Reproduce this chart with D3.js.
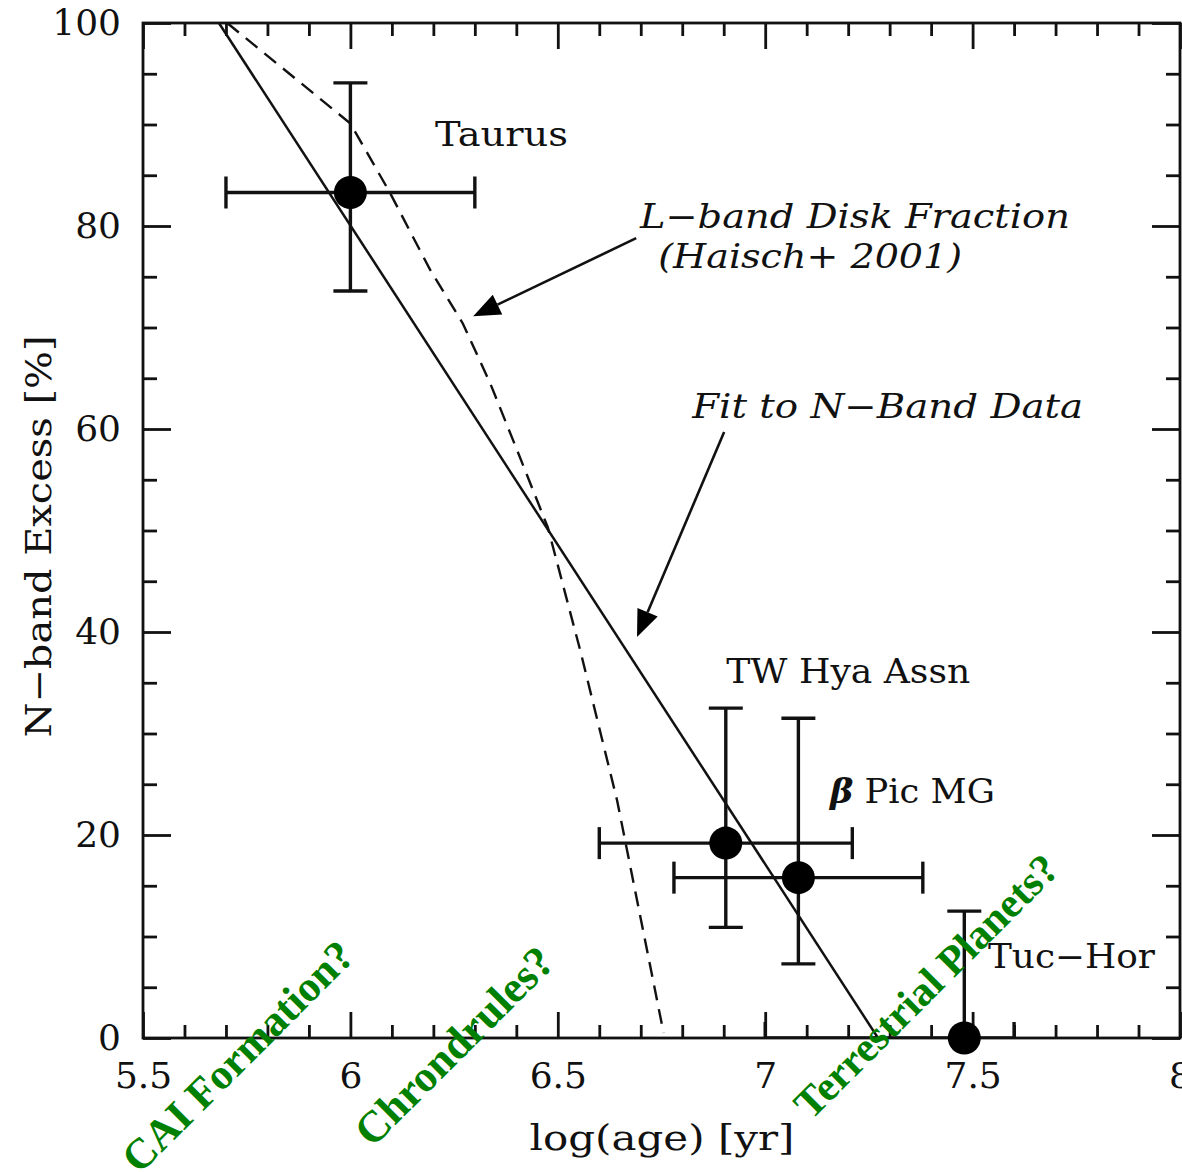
<!DOCTYPE html>
<html><head><meta charset="utf-8">
<script src="https://cdn.jsdelivr.net/npm/d3@7"></script>
<style>body{margin:0;background:#fff;} svg{display:block}</style>
</head><body><svg id="c" width="1182" height="1172"></svg>
<script>
// ---- data ----
const xMajorTicks = [5.5, 6, 6.5, 7, 7.5, 8];
const xTickLabels = ["5.5", "6", "6.5", "7", "7.5", "8"];
const yMajorTicks = [0, 20, 40, 60, 80, 100];
const yTickLabels = ["0", "20", "40", "60", "80", "100"];

const clusterNames = ["Taurus", "TW Hya Assn", "β Pic MG", "Tuc−Hor"];
const logAge   = [6.00, 6.905, 7.08, 7.48];
const excess   = [83.3, 19.2, 15.8, 0];
const ageLo    = [5.70, 6.60, 6.78, 7.00];
const ageHi    = [6.30, 7.21, 7.38, 7.60];
const excessLo = [73.6, 10.9, 7.3, -12.5];
const excessHi = [94.1, 32.5, 31.5, 12.5];

// fit to N-band data (solid)
const fitAge    = [5.683, 7.272];
const fitExcess = [100, 0];
// L-band disk fraction, Haisch+ 2001 (dashed)
const lbandAge    = [5.703, 6.00, 6.095, 6.192, 6.271, 6.337, 6.402, 6.476, 6.554, 6.643, 6.755];
const lbandExcess = [100, 90.1, 83.3, 75.7, 70.4, 64.5, 57.9, 50.3, 38.2, 23.4, 0.5];

// ---- layout ----
const svg = d3.select("#c");
const x = d3.scaleLinear().domain([5.5, 8]).range([143, 1180]);
const y = d3.scaleLinear().domain([0, 100]).range([1038, 23]);
const FONT = "'DejaVu Serif', serif";

const xMinor = d3.range(55, 81).map(v => v / 10).filter(v => !xMajorTicks.some(m => Math.abs(m - v) < 1e-6));
const yMinor = d3.range(0, 101, 5).filter(v => v % 20 !== 0);

svg.append("defs").append("clipPath").attr("id", "plotclip")
  .append("rect").attr("x", x(5.5)).attr("y", y(100)).attr("width", x(8) - x(5.5)).attr("height", y(0) - y(100));

function styleAxis(g) {
  g.select(".domain").remove();
  g.selectAll(".tick line").attr("stroke", "#111").attr("stroke-width", 2.8);
  g.selectAll(".tick text").attr("font-family", FONT).attr("font-size", 36).attr("fill", "#111");
}
// bottom
svg.append("g").attr("transform", `translate(0,${y(0)})`)
  .call(d3.axisBottom(x).tickValues(xMinor).tickSize(-13).tickFormat("")).call(styleAxis);
svg.append("g").attr("transform", `translate(0,${y(0)})`)
  .call(d3.axisBottom(x).tickValues(xMajorTicks).tickSize(-26).tickPadding(24)
    .tickFormat((d, i) => xTickLabels[i])).call(styleAxis);
// top
svg.append("g").attr("transform", `translate(0,${y(100)})`)
  .call(d3.axisTop(x).tickValues(xMinor).tickSize(-13).tickFormat("")).call(styleAxis);
svg.append("g").attr("transform", `translate(0,${y(100)})`)
  .call(d3.axisTop(x).tickValues(xMajorTicks).tickSize(-26).tickFormat("")).call(styleAxis);
// left
svg.append("g").attr("transform", `translate(${x(5.5)},0)`)
  .call(d3.axisLeft(y).tickValues(yMinor).tickSize(-14).tickFormat("")).call(styleAxis);
svg.append("g").attr("transform", `translate(${x(5.5)},0)`)
  .call(d3.axisLeft(y).tickValues(yMajorTicks).tickSize(-28).tickPadding(22)
    .tickFormat((d, i) => yTickLabels[i])).call(styleAxis);
// right
svg.append("g").attr("transform", `translate(${x(8)},0)`)
  .call(d3.axisRight(y).tickValues(yMinor).tickSize(-14).tickFormat("")).call(styleAxis);
svg.append("g").attr("transform", `translate(${x(8)},0)`)
  .call(d3.axisRight(y).tickValues(yMajorTicks).tickSize(-28).tickFormat("")).call(styleAxis);

// frame
svg.append("rect").attr("x", x(5.5)).attr("y", y(100))
  .attr("width", x(8) - x(5.5)).attr("height", y(0) - y(100))
  .attr("fill", "none").attr("stroke", "#111").attr("stroke-width", 2.8);

// lines
const line = d3.line().x(d => x(d[0])).y(d => y(d[1]));
svg.append("path").datum(fitAge.map((a, i) => [a, fitExcess[i]]))
  .attr("d", line).attr("fill", "none").attr("stroke", "#111").attr("stroke-width", 2.5);
svg.append("path").datum(lbandAge.map((a, i) => [a, lbandExcess[i]]))
  .attr("d", line).attr("fill", "none").attr("stroke", "#111").attr("stroke-width", 2.4)
  .attr("stroke-dasharray", "15,9");

// error bars
const eb = svg.append("g").attr("clip-path", "url(#plotclip)")
  .attr("stroke", "#111").attr("stroke-width", 3.4).attr("fill", "none");
const CAP = 16;
clusterNames.forEach((n, i) => {
  const cx = x(logAge[i]), cy = y(excess[i]);
  eb.append("line").attr("x1", x(ageLo[i])).attr("x2", x(ageHi[i])).attr("y1", cy).attr("y2", cy);
  eb.append("line").attr("x1", x(ageLo[i])).attr("x2", x(ageLo[i])).attr("y1", cy - CAP).attr("y2", cy + CAP);
  eb.append("line").attr("x1", x(ageHi[i])).attr("x2", x(ageHi[i])).attr("y1", cy - CAP).attr("y2", cy + CAP);
  eb.append("line").attr("x1", cx).attr("x2", cx).attr("y1", y(excessLo[i])).attr("y2", y(excessHi[i]));
  eb.append("line").attr("x1", cx - CAP - 1).attr("x2", cx + CAP + 1).attr("y1", y(excessLo[i])).attr("y2", y(excessLo[i]));
  eb.append("line").attr("x1", cx - CAP - 1).attr("x2", cx + CAP + 1).attr("y1", y(excessHi[i])).attr("y2", y(excessHi[i]));
});
svg.append("g").selectAll("circle").data(clusterNames).join("circle")
  .attr("cx", (d, i) => x(logAge[i])).attr("cy", (d, i) => y(excess[i]))
  .attr("r", 16.5).attr("fill", "#000");

// arrows (data coords)
const arrows = [
  { from: [6.689, 78.8], to: [6.296, 71.1] },
  { from: [6.901, 59.7], to: [6.691, 39.5] }
];
arrows.forEach(a => {
  const x0 = x(a.from[0]), y0 = y(a.from[1]), x1 = x(a.to[0]), y1 = y(a.to[1]);
  const ang = Math.atan2(y1 - y0, x1 - x0);
  const L = 27, W = 11;
  const bx = x1 - L * Math.cos(ang), by = y1 - L * Math.sin(ang);
  svg.append("line").attr("x1", x0).attr("y1", y0).attr("x2", bx).attr("y2", by)
    .attr("stroke", "#111").attr("stroke-width", 2.6);
  const px = -Math.sin(ang), py = Math.cos(ang);
  svg.append("path").attr("d", `M${x1},${y1}L${bx + W * px},${by + W * py}L${bx - W * px},${by - W * py}Z`)
    .attr("fill", "#000");
});

// annotations
function txt(content, xv, yv, width, opts = {}) {
  const t = svg.append("text").attr("x", x(xv)).attr("y", y(yv))
    .attr("font-family", FONT).attr("font-size", opts.size || 33).attr("fill", "#111")
    .attr("font-style", opts.italic ? "italic" : "normal")
    .attr("textLength", width).attr("lengthAdjust", "spacingAndGlyphs");
  if (opts.beta) {
    t.append("tspan").attr("font-style", "italic").attr("font-weight", "bold").text("β");
    t.append("tspan").text(content);
  } else t.text(content);
  return t;
}
txt("Taurus", 6.204, 87.9, 133);
txt("L−band Disk Fraction", 6.698, 79.8, 430, { italic: true });
txt("(Haisch+ 2001)", 6.742, 75.9, 304, { italic: true });
txt("Fit to N−Band Data", 6.824, 61.1, 391, { italic: true });
txt("TW Hya Assn", 6.906, 35.0, 244);
txt(" Pic MG", 7.156, 23.2, 165, { beta: true });
txt("Tuc−Hor", 7.537, 6.9, 167);

// axis titles
svg.append("text").attr("x", 662).attr("y", 1150)
  .attr("text-anchor", "middle").attr("font-family", FONT).attr("font-size", 36).attr("fill", "#111")
  .attr("textLength", 265).attr("lengthAdjust", "spacingAndGlyphs").text("log(age) [yr]");
svg.append("text").attr("transform", `translate(51,${(y(0) + y(100)) / 2 + 6}) rotate(-90)`)
  .attr("text-anchor", "middle").attr("font-family", FONT).attr("font-size", 36).attr("fill", "#111")
  .attr("textLength", 402).attr("lengthAdjust", "spacingAndGlyphs").text("N−band Excess [%]");

// green speculative labels
const epochLabels = ["CAI Formation?", "Chrondrules?", "Terrestrial Planets?"];
const epochAge    = [5.728, 6.25, 7.388];
const epochLevel  = [-1.8, -0.8, 5.1];
const epochSize   = [43, 44, 42];
svg.append("g").selectAll("text").data(epochLabels).join("text")
  .attr("transform", (d, i) => `translate(${x(epochAge[i])},${y(epochLevel[i])}) rotate(-45)`)
  .attr("text-anchor", "middle").attr("dominant-baseline", "central")
  .attr("font-family", "'Liberation Serif', 'Times New Roman', serif").attr("font-weight", "bold")
  .attr("font-size", (d, i) => epochSize[i]).attr("fill", "#008000").text(d => d);
</script></body></html>
